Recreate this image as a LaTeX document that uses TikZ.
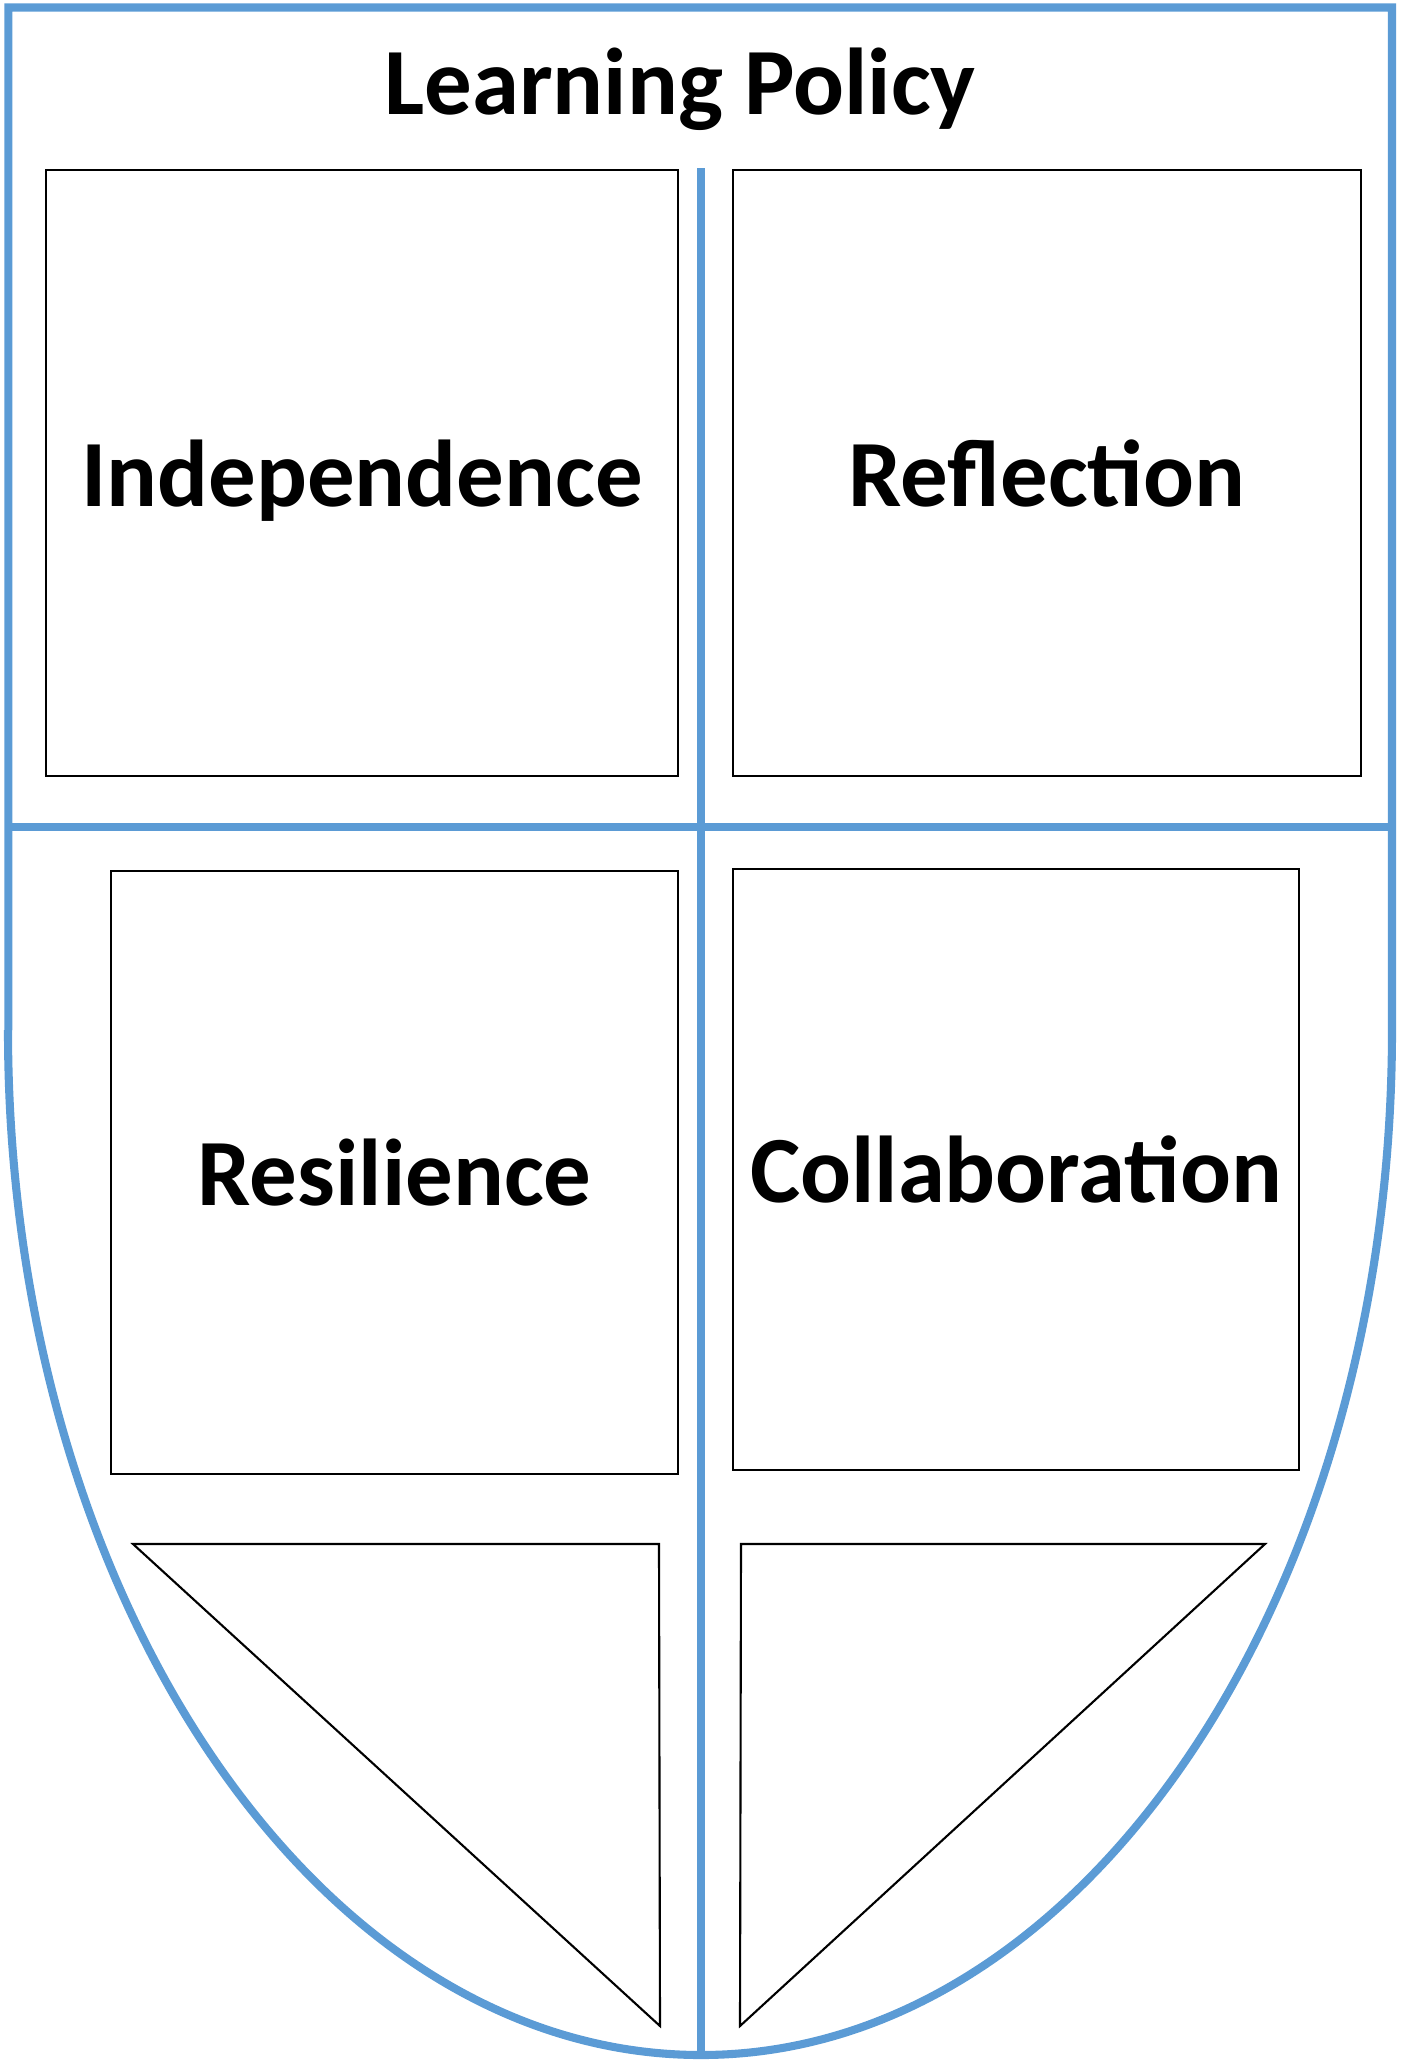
\documentclass[tikz,border=0pt]{standalone}
\usepackage{fontspec}
\setmainfont{Carlito}
\definecolor{shieldblue}{HTML}{5B9BD5}
\begin{document}
\begin{tikzpicture}[
	shield/.style = {draw = shieldblue, line width = 2.3pt},
	panel/.style = {draw, line width = 0.6pt, inner sep = 0pt, text depth = 0pt, font = \fontsize{27}{32}\selectfont\bfseries}
	]
	\useasboundingbox ( 0, 0 ) rectangle ( 14.04, -20.60 );
	\draw[shield] ( 0.083, -10.30 ) -- ( 0.083, -0.075 ) -- ( 13.92, -0.075 ) -- ( 13.92, -10.30 )
		arc [start angle = 0, end angle = -90, x radius = 6.91cm, y radius = 10.25cm]
		arc [start angle = -90, end angle = -180, x radius = 6.93cm, y radius = 10.25cm];
	\draw[shield] ( 0.083, -8.27 ) -- ( 13.92, -8.27 );
	\draw[shield] ( 7.01, -1.68 ) -- ( 7.01, -20.54 );
	\node[font = \fontsize{27}{32}\selectfont\bfseries] (title) at ( 6.80, -0.89 ) {Learning Policy};
	\node[panel, minimum width = 6.32cm, minimum height = 6.06cm] (indep) at ( 3.62, -4.73 ) {Independence};
	\node[panel, minimum width = 6.28cm, minimum height = 6.06cm] (refl) at ( 10.47, -4.73 ) {Reflection};
	\node[panel, minimum width = 5.67cm, minimum height = 6.03cm] (resil) at ( 3.945, -11.725 ) {Resilience};
	\node[panel, minimum width = 5.66cm, minimum height = 6.01cm] (collab) at ( 10.16, -11.695 ) {Collaboration};
	\draw[line width = 0.6pt] ( 1.33, -15.44 ) -- ( 6.59, -15.44 ) -- ( 6.60, -20.26 ) -- cycle;
	\draw[line width = 0.6pt] ( 7.41, -15.44 ) -- ( 12.65, -15.44 ) -- ( 7.40, -20.26 ) -- cycle;
\end{tikzpicture}
\end{document}
